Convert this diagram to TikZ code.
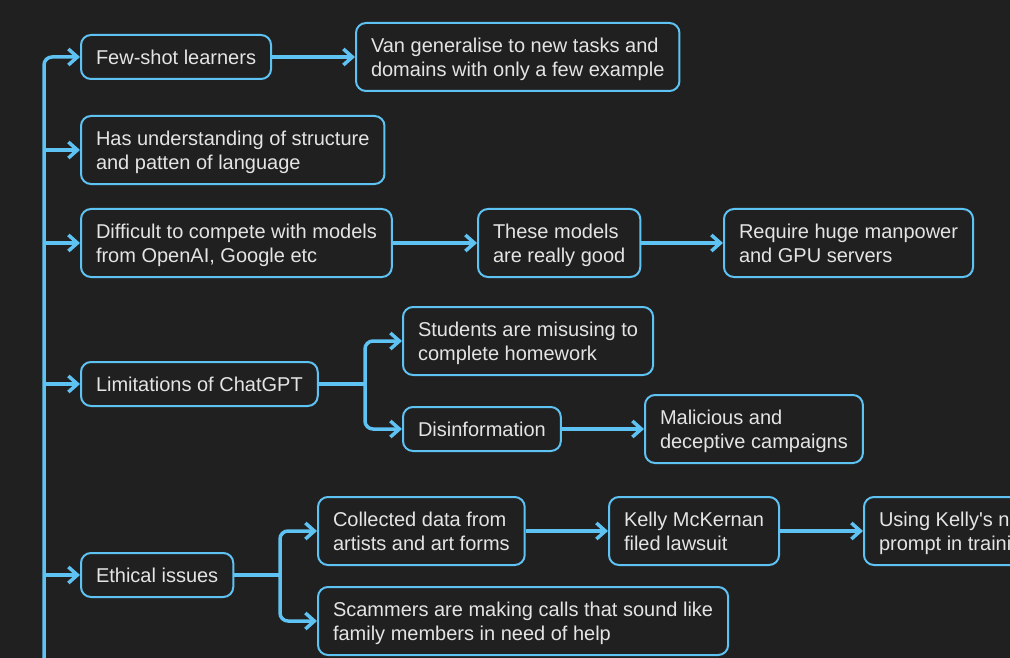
\documentclass[tikz,border=0pt]{standalone}
\usepackage{fontspec}
\setmainfont{Liberation Sans}[Ligatures=TeXOff]
\usetikzlibrary{arrows.meta}
\definecolor{bg}{HTML}{202020}
\definecolor{edgec}{HTML}{5EC2F2}
\definecolor{txt}{HTML}{E4E4E4}
\newcommand\topstr{\rule{0pt}{19bp}}
\newcommand\botstr{\rule[-4.6bp]{0pt}{0pt}}
\begin{document}
\begin{tikzpicture}[x=1bp,y=-1bp,
  box/.style={draw=edgec, line width=2bp, rounded corners=10bp, text=txt, align=left,
    inner xsep=15bp, inner ysep=0pt, minimum height=44bp,
    font=\fontsize{20bp}{24bp}\selectfont, anchor=west},
  two/.style={minimum height=68bp},
  plain/.style={draw=edgec, line width=3.5bp},
  conn/.style={plain, -{Straight Barb[length=9bp,width=16bp]}}]
\fill[bg] (0,0) rectangle (1010,658);
\useasboundingbox (0,0) rectangle (1010,658);
\clip (0,0) rectangle (1010,658);

\node[box] (few) at (80,57) {\topstr Few-shot learners\botstr};
\node[box,two] (van) at (355,57) {\topstr Van generalise to new tasks and\\domains with only a few example\botstr};
\node[box,two] (has) at (80,150) {\topstr Has understanding of structure\\and patten of language\botstr};
\node[box,two] (dif) at (80,243) {\topstr Difficult to compete with models\\from OpenAI, Google etc\botstr};
\node[box,two] (the) at (477,243) {\topstr These models\\are really good\botstr};
\node[box,two] (req) at (723,243) {\topstr Require huge manpower\\and GPU servers\botstr};
\node[box] (lim) at (80,384) {\topstr Limitations of ChatGPT\botstr};
\node[box,two] (stu) at (402,341) {\topstr Students are misusing to\\complete homework\botstr};
\node[box] (dis) at (402,429) {\topstr Disinformation\botstr};
\node[box,two] (mal) at (644,429) {\topstr Malicious and\\deceptive campaigns\botstr};
\node[box] (eth) at (80,575) {\topstr Ethical issues\botstr};
\node[box,two] (col) at (317,531) {\topstr Collected data from\\artists and art forms\botstr};
\node[box,two] (kel) at (608,531) {\topstr Kelly McKernan\\filed lawsuit\botstr};
\node[box,two] (usi) at (863,531) {\topstr Using Kelly's name\\prompt in training\botstr};
\node[box,two] (sca) at (317,621) {\topstr Scammers are making calls that sound like\\family members in need of help\botstr};

\coordinate (tb) at (44,700);
\draw[conn, rounded corners=8bp] (tb) |- (few.west);
\foreach \n in {has,dif,lim,eth} \draw[conn] (tb |- \n.west) -- (\n.west);

\draw[conn] (few.east) -- (van.west);
\draw[conn] (dif.east) -- (the.west);
\draw[conn] (the.east) -- (req.west);
\draw[conn] (dis.east) -- (mal.west);
\draw[conn] (col.east) -- (kel.west);
\draw[conn] (kel.east) -- (usi.west);

\coordinate (lb) at (365,384);
\draw[plain] (lim.east) -- (lb);
\draw[conn, rounded corners=8bp] (lb) |- (stu.west);
\draw[conn, rounded corners=8bp] (lb) |- (dis.west);

\coordinate (eb) at (280,575);
\draw[plain] (eth.east) -- (eb);
\draw[conn, rounded corners=8bp] (eb) |- (col.west);
\draw[conn, rounded corners=8bp] (eb) |- (sca.west);
\end{tikzpicture}
\end{document}
